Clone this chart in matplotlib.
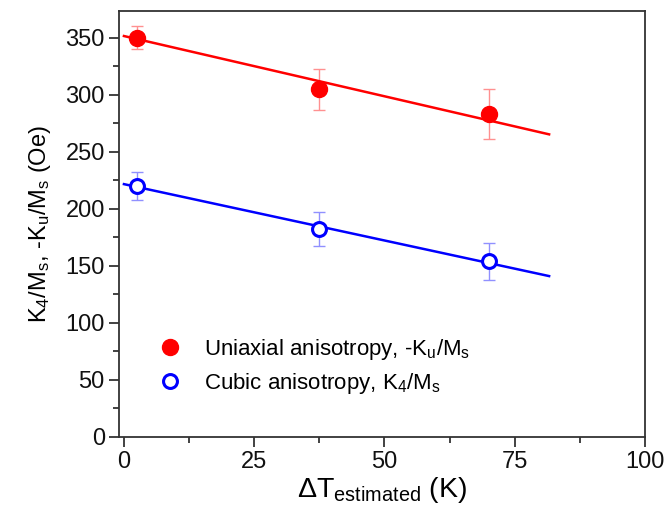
import matplotlib
matplotlib.use('Agg')
import matplotlib.pyplot as plt
import numpy as np

plt.rcParams['font.family'] = 'Liberation Sans'
plt.rcParams['mathtext.fontset'] = 'custom'
plt.rcParams['mathtext.rm'] = 'Liberation Sans'
plt.rcParams['mathtext.it'] = 'Liberation Sans'
plt.rcParams['mathtext.default'] = 'regular'

# temperature offsets (K)
dT = [2.5, 37.5, 70.0]

# uniaxial anisotropy -Ku/Ms (Oe)
ku = [350, 305, 283]
ku_err = [10, 18, 22]

# cubic anisotropy K4/Ms (Oe)
k4 = [220, 182, 154]
k4_err = [12, 15, 16]

fig, ax = plt.subplots(figsize=(6.67, 5.25), dpi=100)
fig.subplots_adjust(left=0.178, right=0.967, top=0.98, bottom=0.168)

# weighted linear fits drawn over 0..82 K
xfit = np.linspace(0, 81.6, 50)
pu = np.polyfit(dT, ku, 1, w=1 / np.array(ku_err))
pc = np.polyfit(dT, k4, 1, w=1 / np.array(k4_err))
ax.plot(xfit, np.polyval(pu, xfit), color='#ff0000', lw=1.8, zorder=2)
ax.plot(xfit, np.polyval(pc, xfit), color='#0000ff', lw=1.8, zorder=2)

ax.errorbar(dT, ku, yerr=ku_err, fmt='none', ecolor='#ff9090', elinewidth=1, capsize=4, capthick=1, zorder=1)
ax.errorbar(dT, k4, yerr=k4_err, fmt='none', ecolor='#9090ff', elinewidth=1, capsize=4, capthick=1, zorder=1)

ax.plot(dT, ku, 'o', color='#ff0000', ms=11.5, zorder=3,
        label=r'Uniaxial anisotropy, -K$_u$/M$_s$')
ax.plot(dT, k4, 'o', mfc='white', mec='#0000ff', mew=2.2, ms=10, zorder=3,
        label=r'Cubic anisotropy, K$_4$/M$_s$')

ax.set_xlim(-1, 100)
ax.set_ylim(0, 374)
ax.set_xticks([0, 25, 50, 75, 100])
ax.set_xticks(np.arange(12.5, 100, 25), minor=True)
ax.set_yticks(np.arange(0, 351, 50))
ax.set_yticks(np.arange(25, 370, 50), minor=True)
ax.tick_params(which='major', direction='out', length=7, width=1.3, labelsize=17,
               colors='#333333', labelcolor='#111111', pad=3)
ax.tick_params(which='minor', direction='out', length=4, width=1.3, colors='#333333')
for s in ax.spines.values():
    s.set_linewidth(1.3)
    s.set_color('#333333')

ax.set_xlabel(r'$\Delta$T$_{estimated}$ (K)', fontsize=20.5, labelpad=2)
ax.set_ylabel(r'K$_4$/M$_s$, -K$_u$/M$_s$ (Oe)', fontsize=17, labelpad=9)

ax.legend(loc='lower left', bbox_to_anchor=(0.035, 0.049), frameon=False, fontsize=16,
          handletextpad=0.9, labelspacing=0.42, handlelength=1.2)

fig.savefig('out.png', dpi=100)
